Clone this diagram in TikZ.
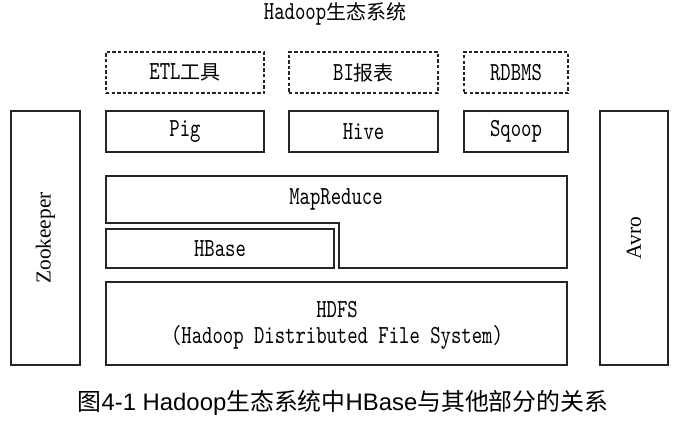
\documentclass[tikz,border=0pt]{standalone}
\usepackage{fontspec}
\newfontfamily\cjk{Noto Sans CJK SC}
\newfontfamily\capfont{Liberation Sans}
\newfontfamily\rfont{Liberation Serif}
\newfontfamily\dtt{lmmono10-regular}[Extension=.otf,FakeStretch=0.76]
\tikzset{
  px/.style={x=0.75pt,y=-0.75pt},
  lbl/.style={font=\fontsize{19.5pt}{18pt}\dtt, inner sep=0pt},
  solidbox/.style={draw=black!85, line width=0.8pt, inner sep=0pt, font=\fontsize{19.5pt}{18pt}\dtt},
  dbox/.style={solidbox, dash pattern=on 2.6pt off 1.6pt},
  vlbl/.style={rotate=90, font=\fontsize{16pt}{18pt}\rfont, inner sep=0pt},
}
\newcommand{\zh}[1]{{\fontsize{15pt}{18pt}\cjk #1}}
\begin{document}
\begin{tikzpicture}[px]
\useasboundingbox (0,0) rectangle (678,421);
\fill[white] (0,0) rectangle (678,421);
% title
\node[lbl] (title) at (335,14) {Hadoop\zh{生态系统}};
% dashed row
\node[dbox, minimum width=0.75*158pt, minimum height=0.75*41pt] (etl) at (185,72.5) {ETL\zh{工具}};
\node[dbox, minimum width=0.75*149pt, minimum height=0.75*41pt] (bi) at (363.5,72.5) {BI\zh{报表}};
\node[dbox, minimum width=0.75*104pt, minimum height=0.75*41pt] (rdbms) at (516,72.5) {RDBMS};
% solid row
\node[solidbox, minimum width=0.75*158pt, minimum height=0.75*41pt] (pig) at (185,131.5) {Pig};
\node[solidbox, minimum width=0.75*149pt, minimum height=0.75*41pt] (hive) at (363.5,131.5) {Hive};
\node[solidbox, minimum width=0.75*104pt, minimum height=0.75*41pt] (sqoop) at (516,131.5) {Sqoop};
% side boxes
\node[solidbox, minimum width=0.75*69pt, minimum height=0.75*254pt] (zk) at (45.5,238) {};
\node[vlbl] (zkl) at (zk.center) {Zookeeper};
\node[solidbox, minimum width=0.75*68pt, minimum height=0.75*254pt] (avro) at (634,238) {};
\node[vlbl] (avrol) at (avro.center) {Avro};
% MapReduce
\draw[black!85, line width=0.8pt] (106,176) -- (567,176) -- (567,268) -- (339,268) -- (339,223) -- (106,223) -- cycle;
\node[lbl] (mr) at (336,199) {MapReduce};
% HBase
\node[solidbox, minimum width=0.75*228pt, minimum height=0.75*39pt] (hbase) at (220,248.5) {HBase};
% HDFS
\node[solidbox, minimum width=0.75*461pt, minimum height=0.75*83pt] (hdfs) at (336.5,323.5) {};
\node[lbl, align=center] (hdfsl) at (337,325.5) {HDFS\\[1pt](Hadoop Distributed File System)};
% caption
\node[inner sep=0pt, font=\fontsize{17.9pt}{20pt}\capfont] (cap) at (343,403) {\cjk 图\capfont 4-1 Hadoop\cjk 生态系统中\capfont HBase\cjk 与其他部分的关系};
\end{tikzpicture}
\end{document}
